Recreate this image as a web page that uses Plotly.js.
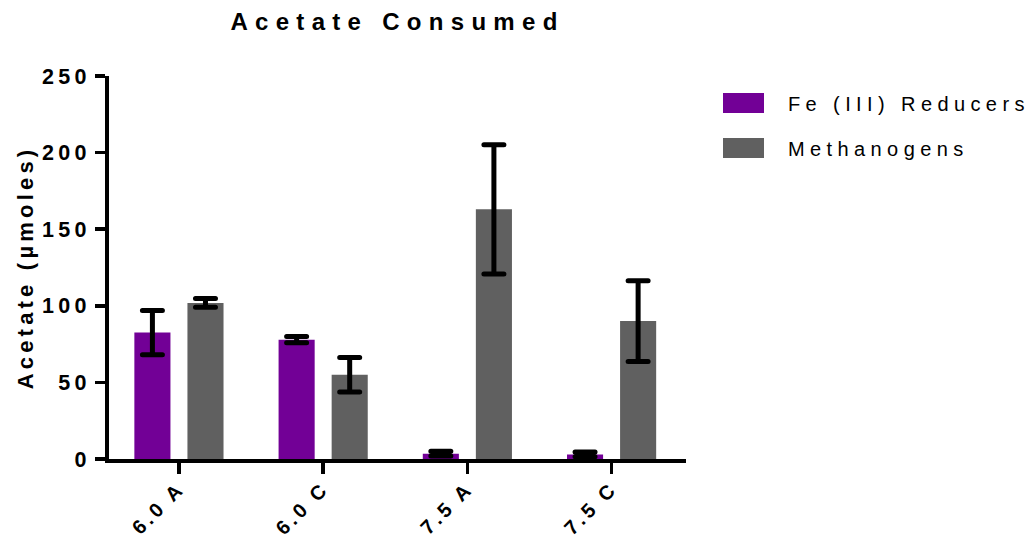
<!DOCTYPE html>
<html>
<head>
<meta charset="utf-8">
<script src="https://cdn.plot.ly/plotly-3.0.1.min.js"></script>
<style>
  html, body { margin: 0; padding: 0; background: #fff; }
  #chart { width: 1029px; height: 544px; }
  /* wide tracking used throughout the figure */
  .gtitle { letter-spacing: 7.3px; }
  .ytick text { letter-spacing: 4.3px; }
  .xtick text { letter-spacing: 3.5px; }
  .g-ytitle text { letter-spacing: 4.2px; }
  .annotation-text { letter-spacing: 5.4px; }
  .errorbar path { stroke-linecap: round; }
</style>
</head>
<body>
<div id="chart"></div>
<script>
// Acetate consumed per treatment (µmoles), mean ± error
const categories = ['6.0 A', '6.0 C', '7.5 A', '7.5 C'];
const seriesNames = ['Fe (III) Reducers', 'Methanogens'];
const feReducers = [82.5, 77.9, 3.5, 3.0];
const feReducersErr = [14.4, 2.1, 1.5, 1.5];
const methanogens = [101.9, 55.0, 163.0, 90.0];
const methanogensErr = [2.8, 11.2, 42.2, 26.4];
const seriesColors = ['#720096', '#606060'];
const yTickValues = [0, 50, 100, 150, 200, 250];

const FONT = 'Liberation Sans, Arial, Helvetica, sans-serif';

// plot-area geometry in pixels, used to place the hand-built legend
const W = 1029, H = 544;
const M = { l: 109, r: 343, t: 76, b: 85 };
const plotW = W - M.l - M.r, plotH = H - M.t - M.b;
const paperX = px => (px - M.l) / plotW;
const paperY = py => (H - M.b - py) / plotH;

const errStyle = { type: 'data', visible: true, color: '#000', thickness: 5, width: 10 };

const traces = [
  { name: seriesNames[0], values: feReducers, err: feReducersErr, color: seriesColors[0] },
  { name: seriesNames[1], values: methanogens, err: methanogensErr, color: seriesColors[1] }
].map(s => ({
  type: 'bar',
  name: s.name,
  x: categories,
  y: s.values,
  marker: { color: s.color, line: { width: 0 } },
  error_y: Object.assign({ array: s.err }, errStyle),
  hoverinfo: 'x+y+name',
  showlegend: false
}));

// legend: wide swatches with text beside them
const legendRows = [103, 148];
const shapes = seriesNames.map((n, i) => ({
  type: 'rect', xref: 'paper', yref: 'paper',
  x0: paperX(723), x1: paperX(764),
  y0: paperY(legendRows[i] + 10), y1: paperY(legendRows[i] - 10),
  fillcolor: seriesColors[i], line: { width: 0 }
}));
const annotations = seriesNames.map((n, i) => ({
  text: n, xref: 'paper', yref: 'paper',
  x: paperX(786), y: paperY(legendRows[i] + 1),
  xanchor: 'left', yanchor: 'middle', showarrow: false,
  font: { family: FONT, size: 20, color: '#000' }
}));

const layout = {
  width: W, height: H,
  margin: M,
  paper_bgcolor: '#fff', plot_bgcolor: '#fff',
  barmode: 'group', bargap: 0.264, bargroupgap: 0.32,
  showlegend: false,
  title: {
    text: 'Acetate Consumed',
    font: { family: FONT, size: 24, color: '#000', weight: 'bold' },
    xref: 'paper', x: 0.5, xanchor: 'center',
    yref: 'container', y: 1 - 22 / H, yanchor: 'middle'
  },
  xaxis: {
    type: 'category',
    range: [-0.485, 3.516],
    showline: true, linecolor: '#000', linewidth: 4,
    ticks: 'outside', ticklen: 11, tickwidth: 3.5, tickcolor: '#000',
    tickangle: -45, ticklabelstandoff: -5,
    tickfont: { family: FONT, size: 20, color: '#000', weight: 'bold' },
    showgrid: false, zeroline: false, fixedrange: true
  },
  yaxis: {
    range: [0, 250],
    tickvals: yTickValues,
    ticktext: yTickValues.map(String),
    showline: true, linecolor: '#000', linewidth: 4,
    ticks: 'outside', ticklen: 10, tickwidth: 3.5, tickcolor: '#000',
    tickfont: { family: FONT, size: 21.5, color: '#000', weight: 'bold' },
    title: {
      text: 'Acetate (µmoles)',
      font: { family: FONT, size: 22, color: '#000', weight: 'bold' },
      standoff: 3
    },
    showgrid: false, zeroline: false, fixedrange: true
  },
  shapes: shapes,
  annotations: annotations
};

Plotly.newPlot('chart', traces, layout, { displayModeBar: false, staticPlot: true });
</script>
</body>
</html>
